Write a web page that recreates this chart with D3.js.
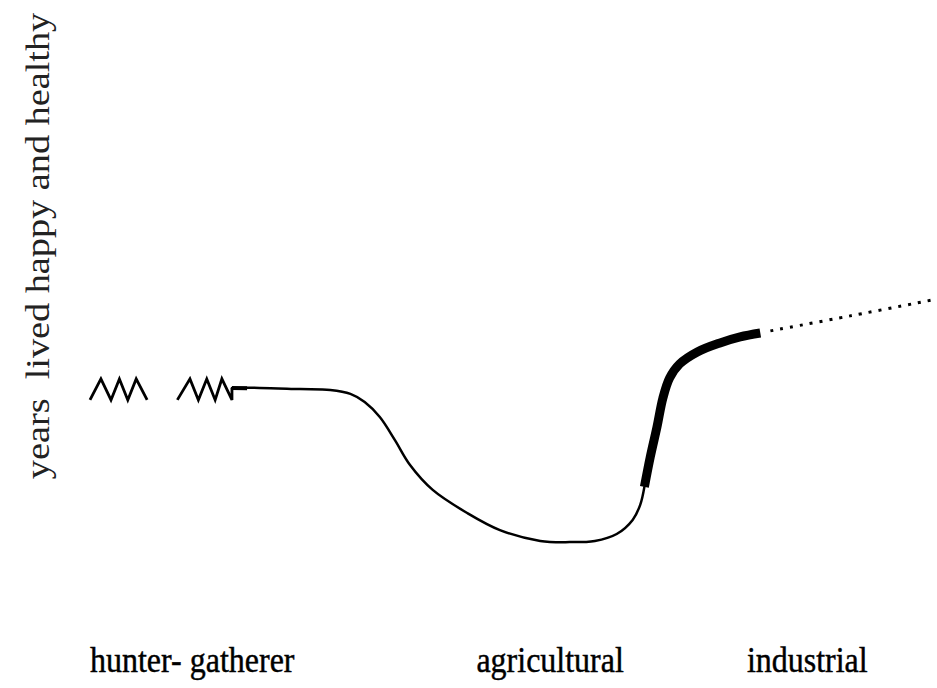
<!DOCTYPE html>
<html>
<head>
<meta charset="utf-8">
<script src="https://cdn.jsdelivr.net/npm/d3@7"></script>
<style>
  html, body { margin: 0; padding: 0; background: #fff; }
  svg { display: block; }
</style>
</head>
<body>
<svg id="chart" width="937" height="688"></svg>
<script>
// ---- data (schematic units: x = era position 0..100, y = wellbeing) ----
const eraLabels = ["hunter- gatherer", "agricultural", "industrial"];
const eraLabelX = [0, 46.0, 78.2];

const zig1X = [0, 1.3, 2.5, 3.5, 4.5, 5.5, 6.8];
const zig1Y = [66.7, 73.7, 66.7, 73.7, 66.7, 73.7, 66.7];

const zig2X = [10.4, 11.9, 12.9, 13.9, 14.9, 15.7, 16.9, 16.9];
const zig2Y = [66.7, 73.7, 66.7, 73.7, 66.7, 73.7, 66.7, 70.7];

const stubX = [16.9, 18.7];
const stubY = [70.7, 70.6];

const thinX = [16.9, 20.2, 25.0, 28.6, 31.0, 32.7, 34.5, 36.3, 38.1, 40.8, 44.9, 48.8, 53.6, 57.1, 60.1, 62.7, 64.6, 65.5, 66.0];
const thinY = [70.7, 70.7, 70.3, 70.0, 68.7, 66.0, 61.0, 53.3, 45.0, 36.7, 29.0, 23.3, 19.7, 19.3, 19.7, 22.0, 26.7, 31.7, 37.7];

const thickX = [66.0, 66.7, 67.5, 68.2, 69.0, 70.2, 72.3, 75.0, 77.4, 79.8];
const thickY = [37.7, 47.7, 57.7, 67.3, 74.0, 78.7, 82.7, 85.7, 87.7, 89.0];

const dotX = [81.0, 90.5, 100.8];
const dotY = [89.7, 94.7, 100.3];

const yAxisTitle = "years  lived happy and healthy";

// ---- scales ----
const x = d3.scaleLinear().domain([0, 100]).range([90, 930]);
const y = d3.scaleLinear().domain([0, 100]).range([600, 300]);

const svg = d3.select("#chart");
const zip = (xs, ys) => xs.map((v, i) => [v, ys[i]]);
const SERIF = "'Liberation Serif', 'Times New Roman', Times, serif";

const lineLinear = d3.line().x(d => x(d[0])).y(d => y(d[1]));
const lineSmooth = d3.line().x(d => x(d[0])).y(d => y(d[1])).curve(d3.curveCatmullRom.alpha(0.5));

// zigzags
[[zig1X, zig1Y], [zig2X, zig2Y]].forEach(([xs, ys]) => {
  svg.append("path")
    .attr("d", lineLinear(zip(xs, ys)))
    .attr("fill", "none").attr("stroke", "#000")
    .attr("stroke-width", 2.8).attr("stroke-linejoin", "miter");
});

// short heavy stub after zigzag
svg.append("path")
  .attr("d", lineLinear(zip(stubX, stubY)))
  .attr("fill", "none").attr("stroke", "#000").attr("stroke-width", 4);

// thin main curve
svg.append("path")
  .attr("d", lineSmooth(zip(thinX, thinY)))
  .attr("fill", "none").attr("stroke", "#000")
  .attr("stroke-width", 2.5).attr("stroke-linecap", "round");

// thick rising curve
svg.append("path")
  .attr("d", lineSmooth(zip(thickX, thickY)))
  .attr("fill", "none").attr("stroke", "#000")
  .attr("stroke-width", 9).attr("stroke-linecap", "butt").attr("stroke-linejoin", "round");

// dotted projection
svg.append("path")
  .attr("d", lineSmooth(zip(dotX, dotY)))
  .attr("fill", "none").attr("stroke", "#000")
  .attr("stroke-width", 3).attr("stroke-dasharray", "3,7");

// era labels
svg.selectAll("text.era").data(eraLabels).join("text")
  .attr("class", "era")
  .attr("transform", (d, i) => `translate(${x(eraLabelX[i])},672) scale(1,1.1)`)
  .attr("font-family", SERIF)
  .attr("font-size", 32)
  .attr("fill", "#000")
  .attr("stroke", "#000").attr("stroke-width", 0.4)
  .attr("text-anchor", "start")
  .text(d => d);

// y-axis title
svg.append("text")
  .attr("transform", "translate(49,246) rotate(-90) scale(1.16,1)")
  .attr("text-anchor", "middle")
  .attr("font-family", SERIF)
  .attr("font-size", 33)
  .attr("fill", "#222")
  .attr("xml:space", "preserve")
  .style("white-space", "pre")
  .text(yAxisTitle);
</script>
</body>
</html>
